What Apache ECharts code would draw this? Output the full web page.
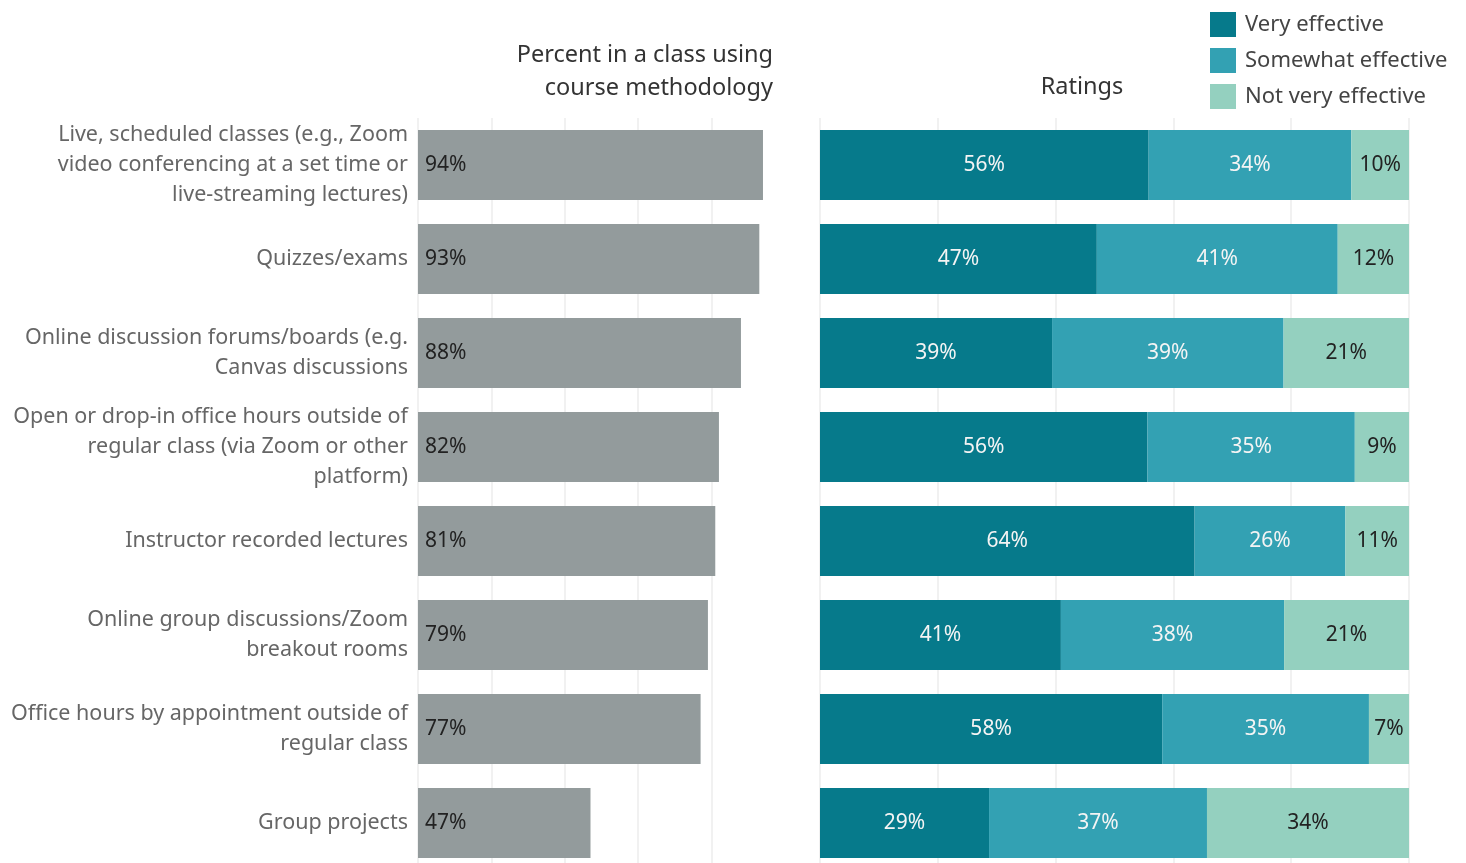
<!DOCTYPE html>
<html>
<head>
<meta charset="utf-8">
<title>Course methodology ratings</title>
<script src="https://cdn.jsdelivr.net/npm/echarts@6/dist/echarts.min.js"></script>
<style>
  html, body { margin: 0; padding: 0; background: #fff; overflow: hidden; }
  #chart { width: 1466px; height: 870px; }
</style>
</head>
<body>
<div id="chart"></div>
<script>
  // categories (top to bottom)
  var methods = [
    'Live, scheduled classes (e.g., Zoom\nvideo conferencing at a set time or\nlive-streaming lectures)',
    'Quizzes/exams',
    'Online discussion forums/boards (e.g.\nCanvas discussions',
    'Open or drop-in office hours outside of\nregular class (via Zoom or other\nplatform)',
    'Instructor recorded lectures',
    'Online group discussions/Zoom\nbreakout rooms',
    'Office hours by appointment outside of\nregular class',
    'Group projects'
  ];
  // percent in a class using the methodology
  var usePct = [94, 93, 88, 82, 81, 79, 77, 47];
  // ratings shares (labels are rounded)
  var veryEff = [55.8, 47.0, 39.4, 55.6, 63.6, 40.9, 58.1, 28.7];
  var someEff = [34.4, 40.9, 39.3, 35.2, 25.6, 37.9, 35.1, 37.0];
  var notEff  = [9.8, 12.1, 21.3, 9.2, 10.8, 21.2, 6.8, 34.3];
  var ratingNames = ['Very effective', 'Somewhat effective', 'Not very effective'];

  var FONT = '"Noto Sans", sans-serif';
  var colors = ['#067a8b', '#33a1b3', '#94d0bf'];

  var chart = echarts.init(document.getElementById('chart'));

  // 右侧堆叠条形
  function ratingSeries(idx, data, labelColor) {
    return {
      name: ratingNames[idx],
      type: 'bar',
      stack: 'rating',
      xAxisIndex: 1,
      yAxisIndex: 1,
      barWidth: 70,
      itemStyle: { color: colors[idx] },
      label: {
        show: true,
        position: 'inside',
        color: labelColor,
        fontFamily: FONT,
        fontSize: 21,
        formatter: function (p) { return Math.round(p.value) + '%'; }
      },
      data: data
    };
  }

  var option = {
    animation: false,
    textStyle: { fontFamily: FONT },
    legend: {
      orient: 'vertical',
      left: 1210,
      top: 12,
      padding: 0,
      itemWidth: 26,
      itemHeight: 25,
      itemGap: 11,
      icon: 'rect',
      data: ratingNames,
      textStyle: { fontFamily: FONT, fontSize: 22, color: '#444', padding: [3, 0, 0, 4] }
    },
    graphic: [
      {
        type: 'text', x: 773, y: 72,
        style: {
          text: 'Percent in a class using\ncourse methodology',
          align: 'right', verticalAlign: 'middle',
          font: '23.5px ' + FONT, lineHeight: 33, fill: '#333'
        }
      },
      {
        type: 'text', x: 1082, y: 87,
        style: {
          text: 'Ratings', align: 'center', verticalAlign: 'middle',
          font: '23.5px ' + FONT, fill: '#333'
        }
      }
    ],
    grid: [
      { left: 418, top: 118, width: 367, height: 752 },
      { left: 820, top: 118, width: 589, height: 752 }
    ],
    xAxis: [
      {
        gridIndex: 0, type: 'value', min: 0, max: 100, interval: 20,
        axisLabel: { show: false }, axisLine: { show: false }, axisTick: { show: false },
        splitLine: { lineStyle: { color: ['#ececec', '#ececec', '#ececec', '#ececec', '#ececec', 'rgba(0,0,0,0)'], width: 1.5 } }
      },
      {
        gridIndex: 1, type: 'value', min: 0, max: 100, interval: 20,
        axisLabel: { show: false }, axisLine: { show: false }, axisTick: { show: false },
        splitLine: { lineStyle: { color: '#ececec', width: 1.5 } }
      }
    ],
    yAxis: [
      {
        gridIndex: 0, type: 'category', inverse: true, data: methods,
        axisLine: { show: false }, axisTick: { show: false },
        axisLabel: {
          margin: 10, align: 'right', color: '#666',
          fontFamily: FONT, fontSize: 21.5, lineHeight: 30, padding: [3, 0, 0, 0]
        }
      },
      {
        gridIndex: 1, type: 'category', inverse: true, data: methods,
        axisLine: { show: false }, axisTick: { show: false }, axisLabel: { show: false }
      }
    ],
    series: [
      {
        type: 'bar',
        xAxisIndex: 0,
        yAxisIndex: 0,
        barWidth: 70,
        itemStyle: { color: '#939b9c' },
        label: {
          show: true,
          position: 'insideLeft',
          distance: 7,
          color: '#222',
          fontFamily: FONT,
          fontSize: 21,
          padding: [4, 0, 0, 0],
          formatter: '{c}%'
        },
        data: usePct
      },
      ratingSeries(0, veryEff, '#f4f4f4'),
      ratingSeries(1, someEff, '#f4f4f4'),
      ratingSeries(2, notEff, '#222')
    ]
  };

  chart.setOption(option);
</script>
</body>
</html>
